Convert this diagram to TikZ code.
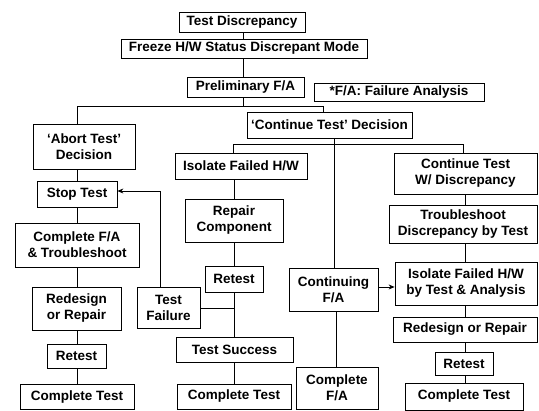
\documentclass[tikz,border=0pt]{standalone}
\usepackage{fontspec}
\setmainfont{Liberation Sans}
\usetikzlibrary{arrows.meta}
\begin{document}
\begin{tikzpicture}[x=1pt,y=-1pt,
  box/.style={draw, line width=0.8pt, inner sep=0pt, align=center,
    font=\fontsize{13.5}{16}\selectfont\bfseries},
  conn/.style={line width=0.8pt},
  arr/.style={conn, -{Stealth[length=6pt,width=5pt]}}]
\useasboundingbox (0,0) rectangle (539,411);
\newcommand\mybox[6]{\node[box, minimum width=#4, minimum height=#5] (#1) at (#2,#3) {#6};}
\mybox{td}{242}{22}{126}{20}{Test Discrepancy}
\mybox{frz}{244}{48.5}{246}{19}{Freeze H/W Status Discrepant Mode}
\mybox{pre}{245.5}{87}{117}{20}{Preliminary F/A}
\mybox{note}{399}{92}{170}{18}{*F/A: Failure Analysis}
\mybox{ctd}{329.5}{125}{165}{26}{‘Continue Test’ Decision}
\mybox{abort}{84}{146.5}{102}{45}{‘Abort Test’\\Decision}
\mybox{stop}{77}{194}{80}{26}{Stop Test}
\mybox{cfa}{77}{245}{124}{44}{Complete F/A\\\& Troubleshoot}
\mybox{rdr1}{76.5}{308.5}{89}{43}{Redesign\\or Repair}
\mybox{rt1}{76.5}{356}{59}{24}{Retest}
\mybox{ct1}{77}{397}{114}{25}{Complete Test}
\mybox{iso}{241}{166}{132}{26}{Isolate Failed H/W}
\mybox{rep}{234}{220.5}{98}{43}{Repair\\Component}
\mybox{rt2}{234}{279}{58}{26}{Retest}
\mybox{tf}{168.5}{307.5}{63}{41}{Test\\Failure}
\mybox{ts}{234.5}{349.5}{117}{25}{Test Success}
\mybox{ct2}{234}{396.5}{114}{25}{Complete Test}
\mybox{cont}{333.5}{289.5}{89}{43}{Continuing\\F/A}
\mybox{cfa3}{337}{388}{82}{42}{Complete\\F/A}
\mybox{ctw}{465.5}{173.5}{143}{41}{Continue Test\\W/ Discrepancy}
\mybox{tsd}{463}{224}{148}{38}{Troubleshoot\\Discrepancy by Test}
\mybox{ifh}{466}{283.5}{142}{43}{Isolate Failed H/W\\by Test \& Analysis}
\mybox{rdr2}{465}{329.5}{144}{25}{Redesign or Repair}
\mybox{rt3}{464}{363.5}{58}{23}{Retest}
\mybox{ct3}{464}{396.5}{118}{27}{Complete Test}
% top chain
\coordinate (cx) at (243,0);
\draw[conn] (td.south -| cx) -- (frz.north -| cx);
\draw[conn] (frz.south -| cx) -- (pre.north -| cx);
\coordinate (b1) at (243,106);
\coordinate (bl) at (77,106);
\coordinate (br) at (323,106);
\draw[conn] (pre.south -| b1) -- (b1);
\draw[conn] (abort.north -| bl) -- (bl) -- (br) -- (ctd.north -| br);
% left chain
\coordinate (lx) at (77,0);
\draw[conn] (abort.south -| lx) -- (stop.north -| lx);
\draw[conn] (stop.south -| lx) -- (cfa.north -| lx);
\draw[conn] (cfa.south -| lx) -- (rdr1.north -| lx);
\draw[conn] (rdr1.south -| lx) -- (rt1.north -| lx);
\draw[conn] (rt1.south -| lx) -- (ct1.north -| lx);
% second bus
\coordinate (m) at (334,144);
\coordinate (ml) at (233,144);
\coordinate (mr) at (463,144);
\draw[conn] (ctd.south -| m) -- (cont.north -| m);
\draw[conn] (iso.north -| ml) -- (ml) -- (mr) -- (ctw.north -| mr);
% middle chain
\coordinate (mx) at (234,0);
\draw[conn] (iso.south -| mx) -- (rep.north -| mx);
\draw[conn] (rep.south -| mx) -- (rt2.north -| mx);
\draw[conn] (rt2.south -| mx) -- (ts.north -| mx);
\draw[conn] (ts.south -| mx) -- (ct2.north -| mx);
\coordinate (tfx) at (160,191);
\draw[arr] (tf.north -| tfx) -- (tfx) -- (stop.east |- tfx);
\coordinate (j) at (234,308);
\draw[conn] (tf.east |- j) -- (j);
% continuing F/A
\coordinate (ar) at (0,287);
\draw[arr] (cont.east |- ar) -- (ifh.west |- ar);
\coordinate (cfx) at (336,0);
\draw[conn] (cont.south -| cfx) -- (cfa3.north -| cfx);
% right chain
\coordinate (rx) at (465,0);
\draw[conn] (ctw.south -| rx) -- (tsd.north -| rx);
\draw[conn] (tsd.south -| rx) -- (ifh.north -| rx);
\draw[conn] (ifh.south -| rx) -- (rdr2.north -| rx);
\draw[conn] (rdr2.south -| rx) -- (rt3.north -| rx);
\draw[conn] (rt3.south -| rx) -- (ct3.north -| rx);
\end{tikzpicture}
\end{document}
